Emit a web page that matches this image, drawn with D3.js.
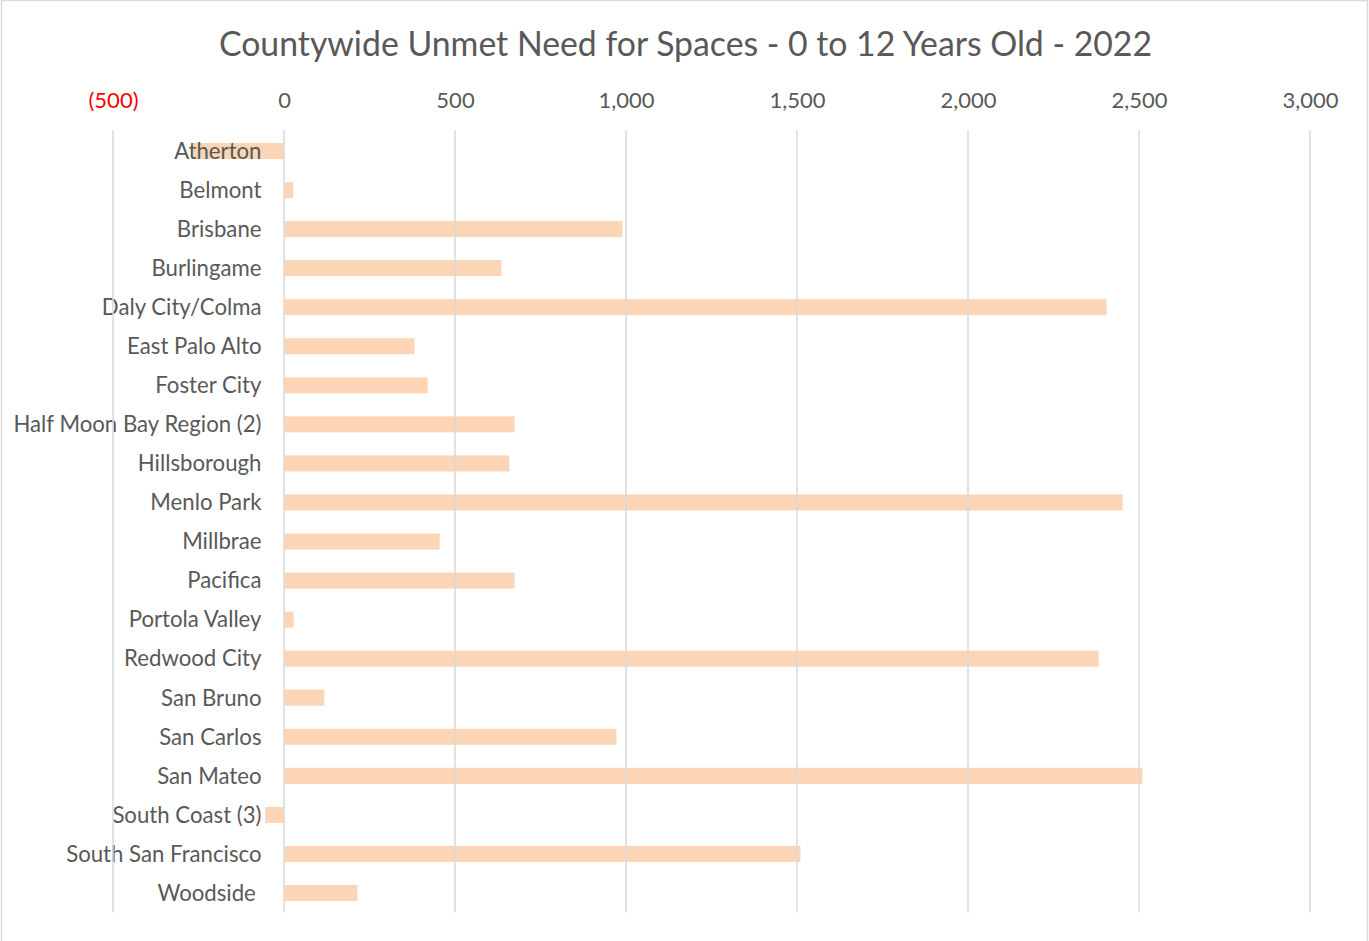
<!DOCTYPE html>
<html>
<head>
<meta charset="utf-8">
<script src="https://cdn.jsdelivr.net/npm/d3@7"></script>
<style>
  html, body { margin: 0; padding: 0; background: #fff; }
  svg { display: block; font-family: Lato, "Open Sans", sans-serif; }
</style>
</head>
<body>
<svg id="chart" width="1369" height="941"></svg>
<script>
// Unmet need for child care spaces (ages 0-12) by community, 2022
const cities = [
  "Atherton", "Belmont", "Brisbane", "Burlingame", "Daly City/Colma",
  "East Palo Alto", "Foster City", "Half Moon Bay Region (2)", "Hillsborough",
  "Menlo Park", "Millbrae", "Pacifica", "Portola Valley", "Redwood City",
  "San Bruno", "San Carlos", "San Mateo", "South Coast (3)",
  "South San Francisco", "Woodside "
];
const unmetNeed = [
  -270, 27, 990, 636, 2405,
  382, 420, 674, 659,
  2452, 455, 674, 28, 2382,
  118, 972, 2510, -55,
  1510, 215
];
const xTicks = [-500, 0, 500, 1000, 1500, 2000, 2500, 3000];
const titleText = "Countywide Unmet Need for Spaces - 0 to 12 Years Old - 2022";

const data = cities.map((c, i) => ({ city: c, value: unmetNeed[i] }));

const svg = d3.select("#chart");
const W = 1369, H = 941;
const plot = { left: 113, right: 1310, top: 131.5, bottom: 912.5 };

const textColor = "#595959";
const gridColor = "#d9d9d9";
const barColor = "#fbd5b5";

// chart area outline
svg.append("rect")
  .attr("x", 1.5).attr("y", 0.5)
  .attr("width", W - 3).attr("height", H + 5)
  .attr("fill", "#fff")
  .attr("stroke", gridColor).attr("stroke-width", 1.5);

const x = d3.scaleLinear().domain([-500, 3000]).range([plot.left, plot.right]);
const y = d3.scaleBand().domain(cities)
  .range([plot.top, plot.bottom])
  .paddingInner(0.59).paddingOuter(0.295);

// title
svg.append("text")
  .attr("x", 685.5).attr("y", 56)
  .attr("text-anchor", "middle")
  .attr("fill", textColor)
  .style("font-size", "33.8px")
  .text(titleText);

// bars
svg.append("g").selectAll("rect")
  .data(data)
  .join("rect")
  .attr("x", d => x(Math.min(0, d.value)))
  .attr("width", d => Math.abs(x(d.value) - x(0)))
  .attr("y", d => y(d.city))
  .attr("height", y.bandwidth())
  .attr("fill", barColor);

// category labels
const yAxis = svg.append("g")
  .attr("transform", `translate(${x(0)},0)`)
  .call(d3.axisLeft(y).tickSize(0).tickPadding(22.5));
yAxis.select(".domain").remove();
yAxis.selectAll("text")
  .attr("fill", textColor)
  .style("font-size", "22.2px")
  .style("font-family", "Lato, 'Open Sans', sans-serif")
  .style("white-space", "pre")
  .attr("dy", "0.35em");

// vertical gridlines, drawn over bars and labels
svg.append("g").selectAll("line")
  .data(xTicks)
  .join("line")
  .attr("x1", d => x(d)).attr("x2", d => x(d))
  .attr("y1", 130).attr("y2", plot.bottom)
  .attr("stroke", gridColor)
  .attr("stroke-width", 1.5);

// value axis labels along the top
const fmt = d3.format(",");
const xAxis = svg.append("g")
  .attr("transform", "translate(0,108)")
  .call(d3.axisTop(x).tickValues(xTicks).tickSize(0).tickPadding(0)
    .tickFormat(d => d < 0 ? `(${fmt(-d)})` : fmt(d)));
xAxis.select(".domain").remove();
xAxis.selectAll("text")
  .attr("fill", d => d < 0 ? "#ff0000" : textColor)
  .style("font-size", "22px")
  .style("font-family", "Lato, 'Open Sans', sans-serif");
</script>
</body>
</html>
